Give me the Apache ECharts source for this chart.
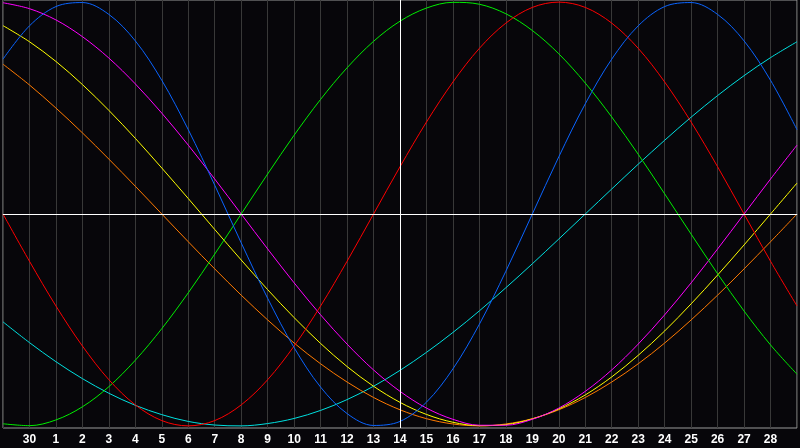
<!DOCTYPE html>
<html>
<head>
<meta charset="utf-8">
<script src="https://cdn.jsdelivr.net/npm/echarts@6/dist/echarts.min.js"></script>
<style>
html,body{margin:0;padding:0;background:#07060a;}
#chart{width:800px;height:448px;}
</style>
</head>
<body>
<div id="chart"></div>
<script>
// Day labels (index 0 and 30 are unlabeled edges)
var days = ['29','30','1','2','3','4','5','6','7','8','9','10','11','12','13','14','15','16','17','18','19','20','21','22','23','24','25','26','27','28','29'];
var todayIndex = 15; // day 14

// Series values (-1 .. 1)
var physical = [0.731,0.888,0.979,0.998,0.942,0.817,0.631,0.398,0.136,-0.136,-0.398,-0.631,-0.817,-0.942,-0.998,-0.979,-0.888,-0.731,-0.520,-0.270,0,0.270,0.520,0.731,0.888,0.979,0.998,0.942,0.817,0.631,0.398];
var emotional = [0,-0.223,-0.434,-0.623,-0.782,-0.901,-0.975,-1,-0.975,-0.901,-0.782,-0.623,-0.434,-0.223,0,0.223,0.434,0.623,0.782,0.901,0.975,1,0.975,0.901,0.782,0.623,0.434,0.223,0,-0.223,-0.434];
var intellectual = [-0.990,-0.999,-0.972,-0.910,-0.815,-0.690,-0.541,-0.372,-0.189,0,0.189,0.372,0.541,0.690,0.815,0.910,0.972,0.999,0.990,0.945,0.866,0.756,0.618,0.458,0.282,0.095,-0.095,-0.282,-0.458,-0.618,-0.756];
var intuitive = [0.997,0.969,0.916,0.837,0.736,0.614,0.476,0.325,0.165,0,-0.165,-0.325,-0.476,-0.614,-0.736,-0.837,-0.916,-0.969,-0.997,-0.997,-0.969,-0.916,-0.837,-0.736,-0.614,-0.476,-0.325,-0.165,0,0.165,0.325];
var aesthetic = [0.889,0.813,0.720,0.611,0.489,0.357,0.217,0.073,-0.073,-0.217,-0.357,-0.489,-0.611,-0.720,-0.813,-0.889,-0.946,-0.983,-0.999,-0.994,-0.967,-0.920,-0.854,-0.769,-0.667,-0.552,-0.424,-0.288,-0.146,0,0.146];
var awareness = [0.707,0.609,0.5,0.383,0.259,0.131,0,-0.131,-0.259,-0.383,-0.5,-0.609,-0.707,-0.793,-0.866,-0.924,-0.966,-0.991,-1,-0.991,-0.966,-0.924,-0.866,-0.793,-0.707,-0.609,-0.5,-0.383,-0.259,-0.131,0];
var spiritual = [-0.509,-0.607,-0.697,-0.777,-0.846,-0.903,-0.947,-0.979,-0.996,-1,-0.989,-0.965,-0.927,-0.876,-0.813,-0.738,-0.653,-0.559,-0.457,-0.348,-0.235,-0.118,0,0.118,0.235,0.348,0.457,0.559,0.653,0.738,0.813];

var seriesDefs = [
  {name:'spiritual', data:spiritual, color:'#00e0e0'},
  {name:'awareness', data:awareness, color:'#ff7a00'},
  {name:'aesthetic', data:aesthetic, color:'#ffff00'},
  {name:'intuitive', data:intuitive, color:'#ff00ff'},
  {name:'intellectual', data:intellectual, color:'#00ee00'},
  {name:'emotional', data:emotional, color:'#ff0000'},
  {name:'physical', data:physical, color:'#0a64ff'}
];

var chart = echarts.init(document.getElementById('chart'));
var series = seriesDefs.map(function(s){
  return {
    name: s.name, type:'line', data:s.data, smooth:0.34, showSymbol:false,
    lineStyle:{color:s.color, width:1}, itemStyle:{color:s.color},
    silent:true, z:3
  };
});
series.push({
  type:'line', data:[], silent:true, z:2,
  markLine:{
    silent:true, symbol:['none','none'], animation:false,
    label:{show:false},
    lineStyle:{color:'#ffffff', width:1, type:'solid'},
    data:[{xAxis: todayIndex},{yAxis: 0}]
  }
});

chart.setOption({
  backgroundColor:'#07060a',
  animation:false,
  grid:{left:0, right:1, top:0, bottom:20, show:true, borderColor:'#9a9a9a', borderWidth:1, backgroundColor:'transparent'},
  xAxis:{
    type:'category', data:days, boundaryGap:false,
    axisLine:{show:true, lineStyle:{color:'#9a9a9a'}},
    axisTick:{show:false},
    splitLine:{show:true, interval:0, lineStyle:{color:'#383838', width:1}},
    axisLabel:{
      interval:0, margin:6, color:'#ffffff', fontWeight:'bold', fontSize:12,
      fontFamily:'Liberation Sans',
      formatter:function(v, idx){ return (idx===0 || idx===days.length-1) ? '' : v; }
    }
  },
  yAxis:{type:'value', min:-1.01, max:1.01, show:false, splitLine:{show:false}},
  series: series
});
</script>
</body>
</html>
